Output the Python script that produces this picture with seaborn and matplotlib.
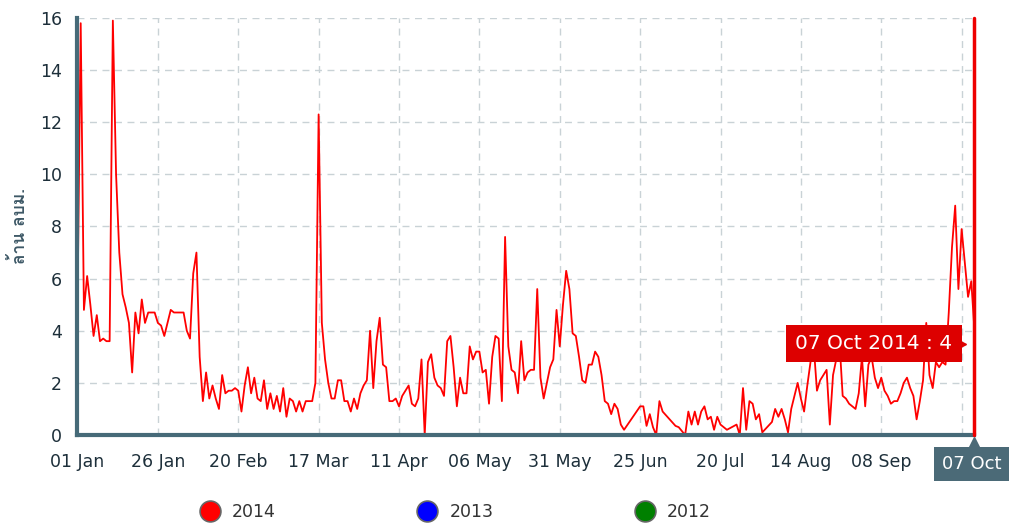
import numpy as np
import pandas as pd
import matplotlib
matplotlib.use("Agg")
import matplotlib.pyplot as plt
import matplotlib.transforms as mtransforms
from matplotlib.lines import Line2D
from matplotlib import font_manager
from matplotlib.ft2font import FT2Font
import seaborn as sns

# daily volume 2014 (million m3), 01 Jan .. 07 Oct, NaN = no data
vol_2014 = [
    4.9, 15.8, 4.8, 6.1, 5.0, 3.8, 4.6, 3.6, 3.7, 3.6,
    3.6, 15.9, 10.0, 7.0, 5.4, 4.9, 4.3, 2.4, 4.7, 3.9,
    5.2, 4.3, 4.7, 4.7, 4.7, 4.3, 4.2, 3.8, 4.3, 4.8,
    4.7, 4.7, 4.7, 4.7, 4.0, 3.7, 6.2, 7.0, 3.0, 1.3,
    2.4, 1.4, 1.9, 1.4, 1.0, 2.3, 1.6, 1.7, 1.7, 1.8,
    1.7, 0.9, 1.9, 2.6, 1.6, 2.2, 1.4, 1.3, 2.1, 1.0,
    1.6, 1.0, 1.5, 0.9, 1.8, 0.7, 1.4, 1.3, 0.9, 1.3,
    0.9, 1.3, 1.3, 1.3, 2.0, 12.3, 4.3, 2.9, 2.0, 1.4,
    1.4, 2.1, 2.1, 1.3, 1.3, 0.9, 1.4, 1.0, 1.6, 1.9,
    2.1, 4.0, 1.8, 3.6, 4.5, 2.7, 2.6, 1.3, 1.3, 1.4,
    1.1, 1.5, 1.7, 1.9, 1.2, 1.1, 1.4, 2.9, 0.0, 2.8,
    3.1, 2.2, 1.9, 1.8, 1.5, 3.6, 3.8, 2.6, 1.1, 2.2,
    1.6, 1.6, 3.4, 2.9, 3.2, 3.2, 2.4, 2.5, 1.2, 3.0,
    3.8, 3.7, 1.3, 7.6, 3.4, 2.5, 2.4, 1.6, 3.6, 2.1,
    2.4, 2.5, 2.5, 5.6, 2.2, 1.4, np.nan, 2.6, 2.9, 4.8,
    3.4, 5.0, 6.3, 5.6, 3.9, 3.8, 3.0, 2.1, 2.0, 2.7,
    2.7, 3.2, 3.0, 2.3, 1.3, 1.2, 0.8, 1.2, 1.0, 0.4,
    0.2, np.nan, np.nan, np.nan, np.nan, 1.1, 1.1, 0.35, 0.8, 0.3,
    0.0, 1.3, 0.9, np.nan, np.nan, np.nan, 0.35, 0.3, np.nan, 0.0,
    0.9, 0.4, 0.9, 0.4, 0.9, 1.1, 0.6, 0.7, 0.2, 0.7,
    0.4, 0.3, 0.2, np.nan, np.nan, 0.4, 0.0, 1.8, 0.2, 1.3,
    1.2, 0.6, 0.8, 0.1, np.nan, np.nan, 0.5, 1.0, 0.7, 1.0,
    0.6, 0.1, 1.0, 1.5, 2.0, 1.4, 0.9, 1.9, 2.8, 3.4,
    1.7, 2.1, 2.3, 2.5, 0.4, 2.3, 2.9, 3.6, 1.5, 1.4,
    1.2, 1.1, 1.0, 1.6, 3.0, 1.1, 2.7, 3.0, 2.2, 1.8,
    2.2, 1.7, 1.5, 1.2, 1.3, 1.3, 1.6, 2.0, 2.2, 1.8,
    1.5, 0.6, 1.3, 2.1, 4.3, 2.3, 1.8, 2.8, 2.6, 2.8,
    2.7, 4.7, 7.2, 8.8, 5.6, 7.9, 6.6, 5.3, 5.9, 4.0,
]
start_date = "2014-01-01"
legend_years = ["2014", "2013", "2012"]
legend_colors = ["#ff0000", "#0000ff", "#008000"]
y_ticks = [0, 2, 4, 6, 8, 10, 12, 14, 16]
y_label = "ล้าน ลบม."
tip_text = "07 Oct 2014 : 4"
cursor_label = "07 Oct"

dates = pd.date_range(start_date, periods=len(vol_2014), freq="D")
df = pd.DataFrame({"date": dates, "value": vol_2014})


def thai_font():
    # look for any installed font that has Thai glyphs
    for f in font_manager.fontManager.ttflist:
        try:
            if 0x0E25 in FT2Font(f.fname).get_charmap():
                return f.name
        except Exception:
            pass
    return None


sns.set_style("white")
plt.rcParams["font.family"] = ["DejaVu Sans"]
th = thai_font()

axis_col = "#466a78"
text_col = "#1d2f3a"
grid_col = "#c9d2d6"

fig = plt.figure(figsize=(10.09, 5.26), dpi=100)
ax = fig.add_axes([0.0768, 0.173, 0.889, 0.7928])

sns.lineplot(data=df, x="date", y="value", color="#ff0000", linewidth=1.3,
             estimator=None, sort=False, ax=ax)

ax.set_xlim(dates[0], dates[-1])
ax.set_ylim(0, 16)
ax.set_yticks(y_ticks)

xt = pd.date_range(start_date, dates[-1], freq="25D")
ax.set_xticks(xt)
labels = [d.strftime("%d %b") for d in xt]
labels[-1] = ""
ax.set_xticklabels(labels)

ax.grid(True, color=grid_col, linestyle=(0, (5, 4)), linewidth=1.0)
for s in ["top", "right"]:
    ax.spines[s].set_visible(False)
for s in ["left", "bottom"]:
    ax.spines[s].set_color(axis_col)
    ax.spines[s].set_linewidth(3)
    ax.spines[s].set_zorder(5)
ax.tick_params(axis="both", colors=axis_col, length=7, width=2.5,
               labelcolor=text_col, labelsize=12.5, direction="out")
ax.tick_params(axis="x", pad=6)
ax.tick_params(axis="y", pad=4)

ax.set_xlabel("")
ax.set_ylabel(y_label, fontsize=12.5, color="#3d5866", fontweight="bold",
              family=[th] if th else ["DejaVu Sans"], labelpad=9)

# crosshair at the last day
last_date = dates[-1]
last_val = vol_2014[-1]
ax.axvline(last_date, color="#ee0000", linewidth=2.5, clip_on=False, zorder=6)

# tooltip
ax.annotate(tip_text, xy=(last_date, last_val), xytext=(-22, -13),
            textcoords="offset pixels", ha="right", va="center",
            color="white", fontsize=14.5,
            bbox=dict(boxstyle="square,pad=0.45", fc="#dd0000", ec="none"),
            zorder=7)
tri = mtransforms.offset_copy(ax.transData, fig=fig, x=-14, y=-13, units="dots")
ax.plot([last_date], [last_val], marker=">", markersize=9, color="#dd0000",
        transform=tri, clip_on=False, zorder=7)

# cursor label on x axis
ax.annotate(cursor_label, xy=(last_date, 0), xycoords=("data", "axes fraction"),
            xytext=(-3, -29), textcoords="offset pixels", ha="center", va="center",
            color="white", fontsize=13, annotation_clip=False,
            bbox=dict(boxstyle="square,pad=0.45", fc="#4b6a77", ec="none"),
            zorder=7)
ax.plot([last_date], [0], marker="^", markersize=9, color="#4b6a77",
        transform=mtransforms.offset_copy(ax.transData, fig=fig, x=0, y=-8, units="dots"),
        clip_on=False, zorder=7)

# legend
handles = [Line2D([], [], ls="", marker="o", markersize=15,
                  markerfacecolor=c, markeredgecolor="#666666", markeredgewidth=1.2)
           for c in legend_colors]
fig.legend(handles, legend_years, loc="center", bbox_to_anchor=(0.452, 0.026),
           ncol=3, frameon=False, fontsize=12.5, handlelength=1.0,
           handletextpad=0.8, columnspacing=8.2, labelcolor="#333333")

fig.savefig("out.png", dpi=100)
